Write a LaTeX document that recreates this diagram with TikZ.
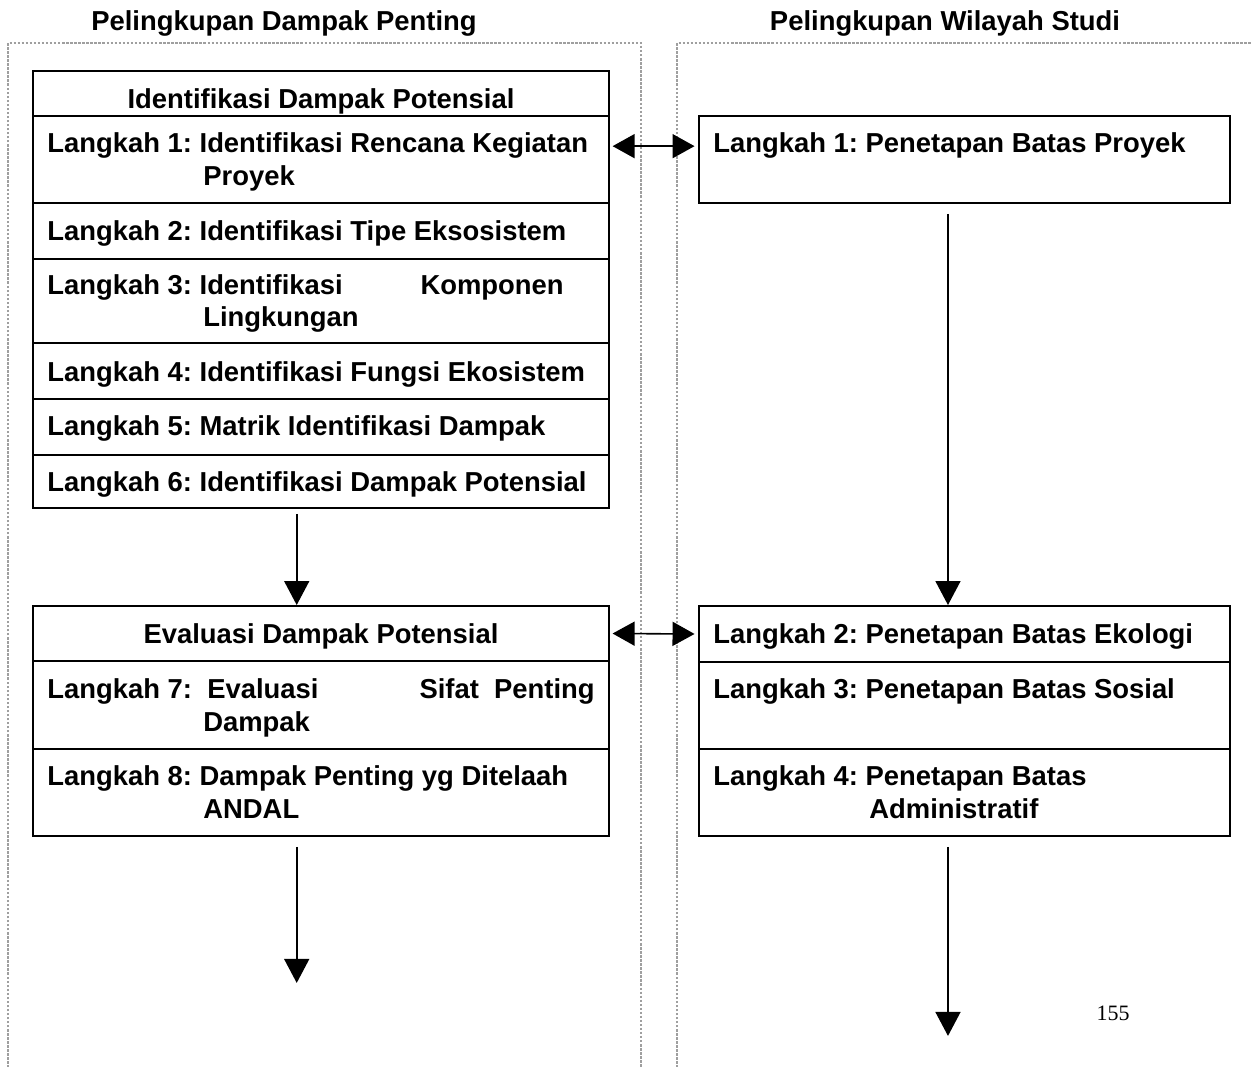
\documentclass[tikz,border=0pt]{standalone}
\usepackage{fontspec}
\setmainfont{Liberation Sans}
\newfontfamily\pagenumfont{Liberation Serif}
\usetikzlibrary{arrows.meta,fit,calc}
\frenchspacing
\begin{document}
\begin{tikzpicture}[x=0.02cm,y=-0.02cm,
  frameline/.style={draw=gray!75,line width=0.6pt,dash pattern=on 1.4pt off 0.9pt},
  rowbox/.style={draw,line width=1.1pt,inner sep=0pt,rectangle},
  lbl/.style={anchor=base west,inner sep=0pt,font=\fontsize{15.6}{18}\selectfont\bfseries},
  lble/.style={anchor=base east,inner sep=0pt,font=\fontsize{15.6}{18}\selectfont\bfseries},
  lblc/.style={anchor=base,inner sep=0pt,font=\fontsize{15.6}{18}\selectfont\bfseries},
  arr/.style={line width=0.9pt,-{Triangle[length=0.48cm,width=0.5cm]}},
  dbl/.style={line width=0.9pt,{Triangle[length=0.44cm,width=0.48cm]}-{Triangle[length=0.44cm,width=0.48cm]}}
]
\useasboundingbox (0,0) rectangle (1251,1067);
\clip (0,0) rectangle (1251,1067);
% frames
\draw[frameline] (8,1080) -- (8,43) -- (641,43) -- (641,1080);
\draw[frameline] (677,1080) -- (677,43) -- (1270,43);
% headers
\node[lblc] (h1) at (284,31) {Pelingkupan Dampak Penting};
\node[lblc] (h2) at (945,31) {Pelingkupan Wilayah Studi};
% left block 1
\node[rowbox,fit={(33,71)(609,116)}] (idtitle) {};
\node[rowbox,fit={(33,116)(609,203)}] (idrow1) {};
\node[rowbox,fit={(33,203)(609,259)}] (idrow2) {};
\node[rowbox,fit={(33,259)(609,343)}] (idrow3) {};
\node[rowbox,fit={(33,343)(609,399)}] (idrow4) {};
\node[rowbox,fit={(33,399)(609,455)}] (idrow5) {};
\node[rowbox,fit={(33,455)(609,508)}] (idrow6) {};
\node[lblc] (t0) at (321,109) {Identifikasi Dampak Potensial};
\node[lbl] (t1a) at (47,153) {Langkah 1: Identifikasi Rencana Kegiatan};
\node[lbl] (t1b) at (203,186) {Proyek};
\node[lbl] (t2) at (47,241) {Langkah 2: Identifikasi Tipe Eksosistem};
\node[lbl] (t3a) at (47,295) {Langkah 3: Identifikasi};
\node[lble] (t3c) at (564,295) {Komponen};
\node[lbl] (t3b) at (203,327) {Lingkungan};
\node[lbl] (t4) at (47,382) {Langkah 4: Identifikasi Fungsi Ekosistem};
\node[lbl] (t5) at (47,436) {Langkah 5: Matrik Identifikasi Dampak};
\node[lbl] (t6) at (47,491) {Langkah 6: Identifikasi Dampak Potensial};
% left block 2
\node[rowbox,fit={(33,606)(609,661)}] (evtitle) {};
\node[rowbox,fit={(33,661)(609,749)}] (evrow7) {};
\node[rowbox,fit={(33,749)(609,836)}] (evrow8) {};
\node[lblc] (e0) at (321,643) {Evaluasi Dampak Potensial};
\node[lbl] (t7a) at (47,698) {Langkah 7:\ \ Evaluasi};
\node[lble] (t7c) at (595,698) {Sifat\ \ Penting};
\node[lbl] (t7b) at (203,731) {Dampak};
\node[lbl] (t8a) at (47,785) {Langkah 8: Dampak Penting yg Ditelaah};
\node[lbl] (t8b) at (203,818) {ANDAL};
% right block 1
\node[rowbox,fit={(699,116)(1230,203)}] (rb1) {};
\node[lbl] (r1) at (713,153) {Langkah 1: Penetapan Batas Proyek};
% right block 2
\node[rowbox,fit={(699,606)(1230,662)}] (rb2a) {};
\node[rowbox,fit={(699,662)(1230,749)}] (rb2b) {};
\node[rowbox,fit={(699,749)(1230,836)}] (rb2c) {};
\node[lbl] (r2) at (713,643) {Langkah 2: Penetapan Batas Ekologi};
\node[lbl] (r3) at (713,698) {Langkah 3: Penetapan Batas Sosial};
\node[lbl] (r4a) at (713,785) {Langkah 4: Penetapan Batas};
\node[lbl] (r4b) at (869,818) {Administratif};
% page number
\node[anchor=base,inner sep=0pt,font=\pagenumfont\fontsize{12.5}{14}\selectfont] (pg) at (1113,1020) {155};
% connectors
\coordinate (r1p) at ($(rb1.north west)!0.35!(rb1.south west)$);
\draw[dbl,shorten <=1.5pt,shorten >=2pt] (idrow1.east |- r1p) -- (r1p);
\draw[dbl,shorten <=1.5pt,shorten >=2pt] (evtitle.east) -- (rb2a.west);
\coordinate (cL) at ($(idrow6.south west)!0.458!(idrow6.south east)$);
\coordinate (cR) at ($(rb1.south west)!0.469!(rb1.south east)$);
\draw[arr] ([yshift=-0.1cm]cL) -- (cL |- evtitle.north);
\draw[arr] ([yshift=-0.2cm]cR) -- (cR |- rb2a.north);
\coordinate (cL2) at ($(evrow8.south west)!0.458!(evrow8.south east)$);
\coordinate (cR2) at ($(rb2c.south west)!0.469!(rb2c.south east)$);
\coordinate (endL) at ([yshift=-2.92cm]cL2);
\coordinate (endR) at ([yshift=-3.98cm]cR2);
\draw[arr] ([yshift=-0.2cm]cL2) -- (endL);
\draw[arr] ([yshift=-0.2cm]cR2) -- (endR);
\end{tikzpicture}
\end{document}
